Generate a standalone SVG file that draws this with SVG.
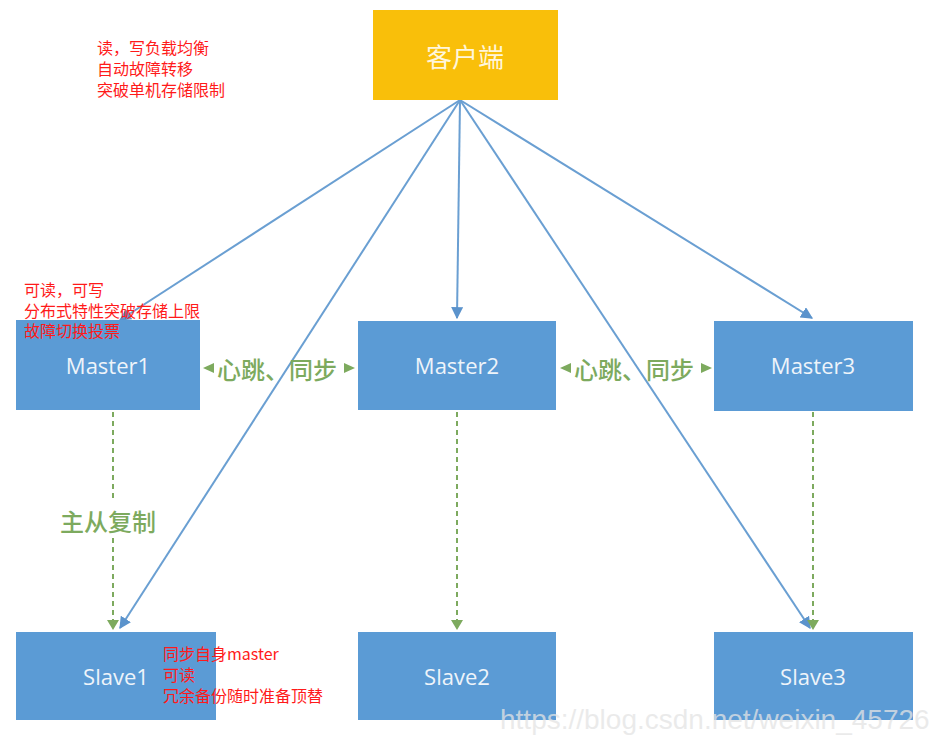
<svg xmlns="http://www.w3.org/2000/svg" width="933" height="740" viewBox="0 0 933 740">
<style>
.box{fill:#5B9BD5;}
.client{fill:#F9BF0A;}
.lbl{font-family:"Open Sans","Liberation Sans",sans-serif;font-size:22px;fill:#EEF4FA;text-anchor:middle;dominant-baseline:central;}
.clbl{font-family:"Noto Sans CJK SC",sans-serif;font-size:26px;fill:#FFF6DC;text-anchor:middle;dominant-baseline:central;}
.red{font-family:"Noto Sans CJK SC",sans-serif;font-size:16px;fill:#FF1A1A;}
.green{font-family:"Noto Sans CJK SC",sans-serif;font-size:24px;font-weight:500;fill:#7DAA5E;dominant-baseline:central;}
.blue{stroke:#6A9FD2;stroke-width:2;fill:none;marker-end:url(#ab);}
.dash{stroke:#7DAA5E;stroke-width:2;stroke-dasharray:5,4;fill:none;}
.gtri{fill:#7DAA5E;}
</style>
<defs>
<marker id="ab" viewBox="0 0 10 10" refX="9" refY="5" markerWidth="6" markerHeight="6" orient="auto" markerUnits="strokeWidth">
<path d="M0,0 L10,5 L0,10 z" fill="#5B93CC"/>
</marker>
</defs>
<rect width="933" height="740" fill="#ffffff"/>

<g id="connectors">
<line class="blue" x1="460" y1="100" x2="120" y2="320"/>
<line class="blue" x1="460" y1="100" x2="120" y2="628"/>
<line class="blue" x1="460" y1="100" x2="457" y2="318"/>
<line class="blue" x1="460" y1="100" x2="810" y2="628"/>
<line class="blue" x1="460" y1="100" x2="812" y2="318"/>
<line class="dash" x1="113" y1="412" x2="113" y2="502"/>
<line class="dash" x1="113" y1="538" x2="113" y2="622"/>
<polygon class="gtri" points="107,620 119,620 113,630"/>
<line class="dash" x1="457" y1="412" x2="457" y2="622"/>
<polygon class="gtri" points="451,620 463,620 457,630"/>
<line class="dash" x1="813" y1="412" x2="813" y2="622"/>
<polygon class="gtri" points="807,620 819,620 813,630"/>
<polygon class="gtri" points="203,368 214,363 214,373"/>
<polygon class="gtri" points="355,368 344,363 344,373"/>
<polygon class="gtri" points="560,368 571,363 571,373"/>
<polygon class="gtri" points="712,368 701,363 701,373"/>
<text class="green" x="217" y="368">心跳、同步</text>
<text class="green" x="574" y="368">心跳、同步</text>
<text class="green" x="60" y="520">主从复制</text>
</g>

<g id="client"><rect class="client" x="373" y="10" width="185" height="90"/><text class="clbl" x="465" y="55">客户端</text></g>
<g id="master1"><rect class="box" x="16" y="320" width="184" height="90"/><text class="lbl" x="108" y="365">Master1</text></g>
<g id="master2"><rect class="box" x="358" y="321" width="198" height="89"/><text class="lbl" x="457" y="365">Master2</text></g>
<g id="master3"><rect class="box" x="714" y="321" width="199" height="90"/><text class="lbl" x="813" y="365">Master3</text></g>
<g id="slave1"><rect class="box" x="16" y="632" width="200" height="88"/><text class="lbl" x="116" y="676">Slave1</text></g>
<g id="slave2"><rect class="box" x="358" y="632" width="198" height="88"/><text class="lbl" x="457" y="676">Slave2</text></g>
<g id="slave3"><rect class="box" x="714" y="632" width="199" height="88"/><text class="lbl" x="813" y="676">Slave3</text></g>

<g id="notes">
<text class="red" x="97" y="54">读，写负载均衡</text>
<text class="red" x="97" y="75">自动故障转移</text>
<text class="red" x="97" y="96">突破单机存储限制</text>
<text class="red" x="24" y="296">可读，可写</text>
<text class="red" x="24" y="317">分布式特性突破存储上限</text>
<text class="red" x="24" y="337">故障切换投票</text>
<text class="red" x="163" y="660">同步自身master</text>
<text class="red" x="163" y="681">可读</text>
<text class="red" x="163" y="702">冗余备份随时准备顶替</text>
</g>

<text x="500" y="729" font-family="Liberation Sans, sans-serif" font-size="28" fill="#e4e4e4" fill-opacity="0.75">https://blog.csdn.net/weixin_45726</text>
</svg>
